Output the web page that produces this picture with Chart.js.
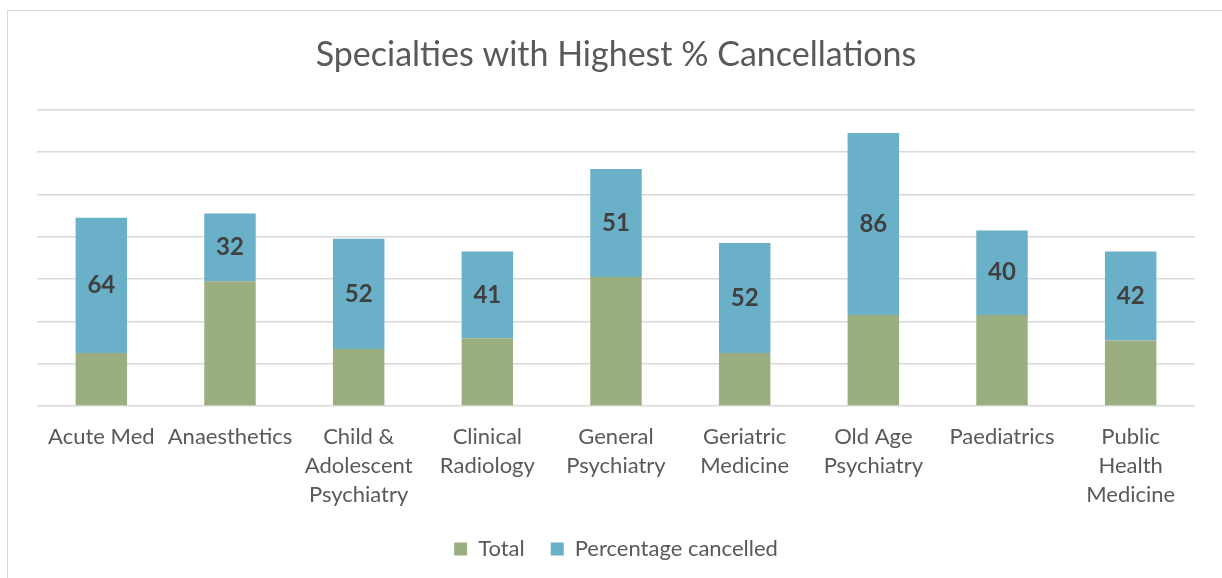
<!DOCTYPE html>
<html>
<head>
<meta charset="utf-8">
<script src="https://cdn.jsdelivr.net/npm/chart.js@4.4.1/dist/chart.umd.min.js"></script>
<style>
  body { margin: 0; background: #fff; overflow: hidden; }
  #frame { position: absolute; left: 7px; top: 10px; width: 1240px; height: 600px; border: 1px solid #d9d9d9; }
  #wrap { position: absolute; left: 0; top: 0; width: 1222px; height: 578px; }
</style>
</head>
<body>
<div id="frame"></div>
<div id="wrap"><canvas id="chart"></canvas></div>
<script>
// data
const specialties = [
  "Acute Med",
  "Anaesthetics",
  ["Child &", "Adolescent", "Psychiatry"],
  ["Clinical", "Radiology"],
  ["General", "Psychiatry"],
  ["Geriatric", "Medicine"],
  ["Old Age", "Psychiatry"],
  "Paediatrics",
  ["Public", "Health", "Medicine"]
];
const total = [25, 59, 27, 32, 61, 25, 43, 43, 31];
const pctCancelled = [64, 32, 52, 41, 51, 52, 86, 40, 42];
const yMax = 140;
const yStep = 20;

const FONT = "Lato, 'Open Sans', sans-serif";

// labels in the middle of the blue segments
const barLabels = {
  id: "barLabels",
  afterDatasetsDraw(chart) {
    const ctx = chart.ctx;
    const meta = chart.getDatasetMeta(1);
    ctx.save();
    ctx.font = "bold 24px " + FONT;
    ctx.fillStyle = "#404040";
    ctx.textAlign = "center";
    ctx.textBaseline = "middle";
    meta.data.forEach((bar, i) => {
      const p = bar.getProps(["x", "y", "base"], true);
      ctx.fillText(pctCancelled[i], p.x, (p.y + p.base) / 2);
    });
    ctx.restore();
  }
};

new Chart(document.getElementById("chart"), {
  type: "bar",
  data: {
    labels: specialties,
    datasets: [
      { label: "Total", data: total, backgroundColor: "#9BAE80" },
      { label: "Percentage cancelled", data: pctCancelled, backgroundColor: "#6AB0C8" }
    ]
  },
  options: {
    responsive: true,
    maintainAspectRatio: false,
    animation: false,
    layout: { padding: { left: 37, right: 27, top: 0, bottom: 8 } },
    datasets: { bar: { barPercentage: 0.4, categoryPercentage: 1 } },
    plugins: {
      title: {
        display: true,
        text: "Specialties with Highest % Cancellations",
        color: "#595959",
        font: { family: FONT, size: 34, weight: "normal" },
        padding: { top: 35, bottom: 34 }
      },
      legend: {
        position: "bottom",
        labels: {
          color: "#595959",
          font: { family: FONT, size: 22 },
          boxWidth: 13,
          boxHeight: 13,
          padding: 26
        }
      },
      tooltip: { enabled: false }
    },
    scales: {
      x: {
        stacked: true,
        grid: { display: false },
        border: { display: false },
        ticks: {
          color: "#595959",
          font: { family: FONT, size: 22, lineHeight: 1.32 },
          padding: 8,
          maxRotation: 0,
          autoSkip: false
        },
        afterFit(scale) { scale.height = 106; }
      },
      y: {
        stacked: true,
        min: 0,
        max: yMax,
        ticks: { display: false, stepSize: yStep },
        grid: { color: "#d9d9d9", lineWidth: 1.5, drawTicks: false },
        border: { display: false }
      }
    }
  },
  plugins: [barLabels]
});
</script>
</body>
</html>
